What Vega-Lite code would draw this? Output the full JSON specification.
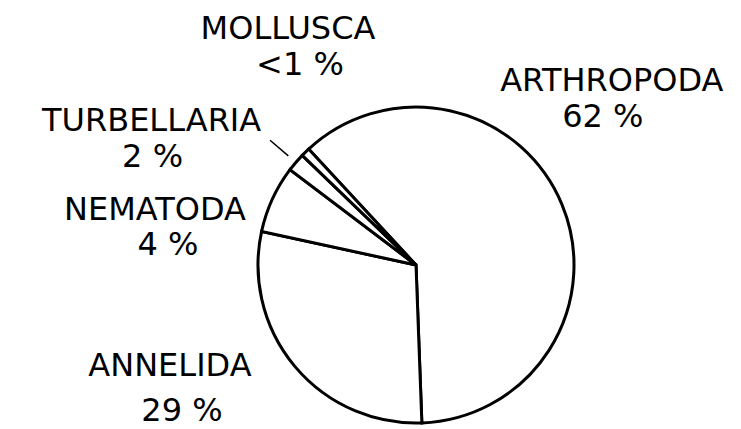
{
  "$schema": "https://vega.github.io/schema/vega-lite/v6.json",
  "width": 650,
  "height": 328,
  "autosize": {"type": "none"},
  "padding": {"left": 91, "top": 101, "right": 0, "bottom": 0},
  "background": "white",
  "config": {
    "view": {"stroke": null},
    "text": {"font": "DejaVu Sans", "fontSize": 32, "color": "black", "align": "center", "baseline": "alphabetic"}
  },
  "data": {
    "values": [
      {"taxon": "ARTHROPODA", "share": 61.3, "label": "62 %", "rank": 1},
      {"taxon": "ANNELIDA", "share": 29.0, "label": "29 %", "rank": 2},
      {"taxon": "NEMATODA", "share": 6.9, "label": "4 %", "rank": 3},
      {"taxon": "TURBELLARIA", "share": 1.9, "label": "2 %", "rank": 4},
      {"taxon": "MOLLUSCA", "share": 0.9, "label": "<1 %", "rank": 5}
    ]
  },
  "encoding": {
    "theta": {"field": "share", "type": "quantitative", "stack": true, "scale": {"range": [-0.747, 5.536]}},
    "order": {"field": "rank", "type": "quantitative"}
  },
  "layer": [
    {"mark": {"type": "arc", "radius": 158, "fill": "white", "stroke": "black", "strokeWidth": 3}},
    {
      "mark": {"type": "arc", "radius": 192, "radius2": 168, "padAngle": 0.5, "fillOpacity": 0, "stroke": "black", "strokeWidth": 1.5},
      "encoding": {"strokeOpacity": {"condition": {"test": "datum.taxon === 'TURBELLARIA'", "value": 1}, "value": 0}}
    },
    {
      "mark": {"type": "text", "radius": 240, "dx": -26, "dy": -82},
      "encoding": {"text": {"condition": {"test": "datum.taxon === 'ARTHROPODA'", "field": "taxon", "type": "nominal"}, "value": ""}}
    },
    {
      "mark": {"type": "text", "radius": 240, "dx": -35, "dy": -46},
      "encoding": {"text": {"condition": {"test": "datum.taxon === 'ARTHROPODA'", "field": "label", "type": "nominal"}, "value": ""}}
    },
    {
      "mark": {"type": "text", "radius": 240, "dx": -62, "dy": -43},
      "encoding": {"text": {"condition": {"test": "datum.taxon === 'ANNELIDA'", "field": "taxon", "type": "nominal"}, "value": ""}}
    },
    {
      "mark": {"type": "text", "radius": 240, "dx": -50, "dy": 2},
      "encoding": {"text": {"condition": {"test": "datum.taxon === 'ANNELIDA'", "field": "label", "type": "nominal"}, "value": ""}}
    },
    {
      "mark": {"type": "text", "radius": 240, "dx": -43, "dy": 55},
      "encoding": {"text": {"condition": {"test": "datum.taxon === 'NEMATODA'", "field": "taxon", "type": "nominal"}, "value": ""}}
    },
    {
      "mark": {"type": "text", "radius": 240, "dx": -30, "dy": 90},
      "encoding": {"text": {"condition": {"test": "datum.taxon === 'NEMATODA'", "field": "label", "type": "nominal"}, "value": ""}}
    },
    {
      "mark": {"type": "text", "radius": 240, "dx": -82, "dy": 22},
      "encoding": {"text": {"condition": {"test": "datum.taxon === 'TURBELLARIA'", "field": "taxon", "type": "nominal"}, "value": ""}}
    },
    {
      "mark": {"type": "text", "radius": 240, "dx": -81, "dy": 58},
      "encoding": {"text": {"condition": {"test": "datum.taxon === 'TURBELLARIA'", "field": "label", "type": "nominal"}, "value": ""}}
    },
    {
      "mark": {"type": "text", "radius": 240, "dx": 40, "dy": -55},
      "encoding": {"text": {"condition": {"test": "datum.taxon === 'MOLLUSCA'", "field": "taxon", "type": "nominal"}, "value": ""}}
    },
    {
      "mark": {"type": "text", "radius": 240, "dx": 52, "dy": -19},
      "encoding": {"text": {"condition": {"test": "datum.taxon === 'MOLLUSCA'", "field": "label", "type": "nominal"}, "value": ""}}
    }
  ]
}
